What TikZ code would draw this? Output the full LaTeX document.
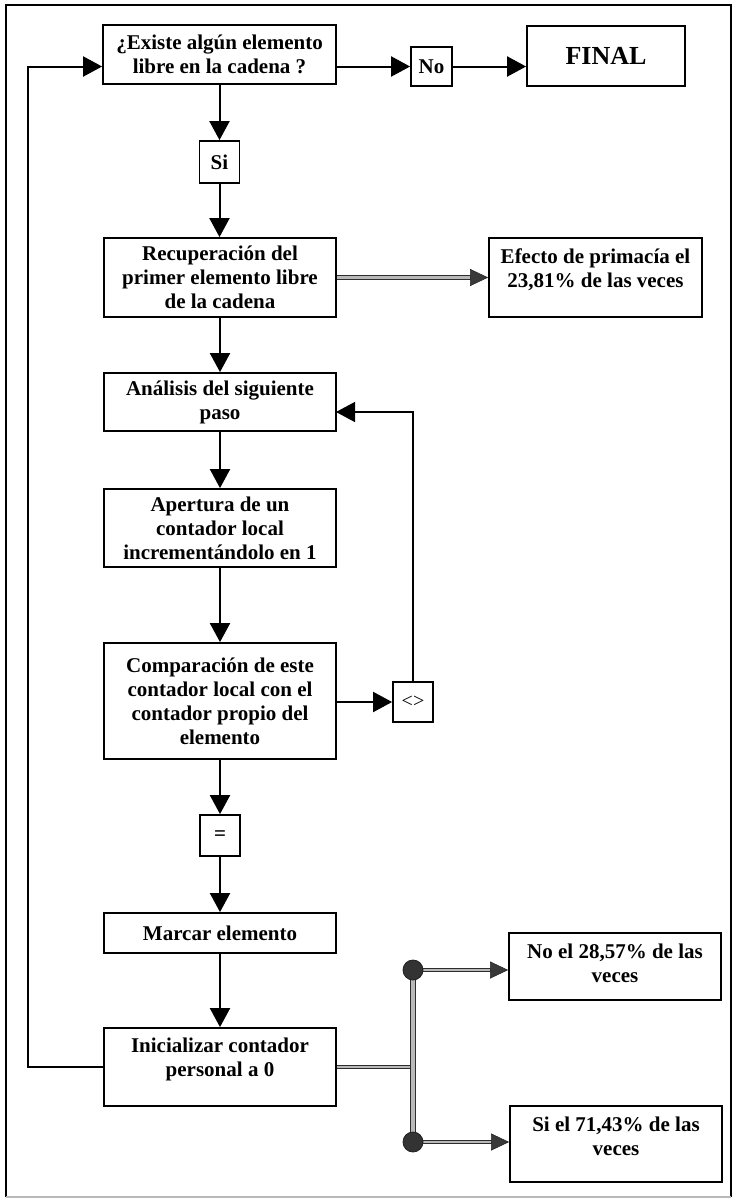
\documentclass[tikz,border=0pt]{standalone}
\usepackage{fontspec}
\setmainfont{Liberation Serif}
\usetikzlibrary{arrows.meta}
\begin{document}
\begin{tikzpicture}[x=1pt,y=-1pt,
  every node/.style={font=\fontsize{21}{24}\selectfont\bfseries},
  box/.style={draw, line width=1.8pt, inner sep=0pt, align=center},
  sz/.style 2 args={minimum width=#1, minimum height=#2},
  txt/.style={inner sep=0pt, align=center},
  arr/.style={line width=2pt, -{Triangle[length=19pt,width=20pt]}},
  thinarr/.style={line width=1.4pt, -{Triangle[length=19pt,width=20pt]}},
  dbl/.style={draw=gray!35!black, line width=1.1pt, double=gray!55, double distance=2.6pt},
  gtip/.style={draw=gray!30!black, line width=0.6pt,
    -{Triangle[length=18pt,width=17pt,fill=gray!45!black]}},
  dot/.style={circle, draw=gray!25!black, fill=gray!40!black, line width=0.8pt, minimum size=20pt, inner sep=0pt}
]
\useasboundingbox (0,0) rectangle (733,1200);

% page frame
\draw[line width=2.6pt] (6,1197) -- (6,5) -- (731,5) -- (731,1197);
\draw[line width=2pt, gray!55] (6,1197) -- (731,1197);

% main column
\node[box, sz={233}{59}] (q) at (219.5,54.5) {¿Existe algún elemento\\libre en la cadena ?};
\node[box, sz={41}{39}] (no) at (431.5,66.5) {No};
\node[box, sz={158}{60}, font=\fontsize{26}{30}\selectfont\bfseries] (fin) at (606,56) {FINAL};
\node[box, sz={40}{42}] (si) at (219.5,162) {Si};
\node[box, sz={232}{79}] (rec) at (220,277.5) {Recuperación del\\primer elemento libre\\de la cadena};
\node[box, sz={213}{79}] (efe) at (595.5,277.5) {};
\node[txt] (efeT) at (595.5,270) {Efecto de primacía el\\23,81\% de las veces};
\node[box, sz={232}{58}] (ana) at (220,402) {Análisis del siguiente\\paso};
\node[box, sz={232}{78}] (ape) at (220,528) {Apertura de un\\contador local\\incrementándolo en 1};
\node[box, sz={232}{116}] (com) at (220,701) {Comparación de este\\contador local con el\\contador propio del\\elemento};
\node[box, sz={40}{40}, font=\fontsize{20}{24}\selectfont\mdseries] (ne) at (413,702) {\textless\textgreater};
\node[box, sz={40}{41}] (eq) at (220,835.5) {=};
\node[box, sz={232}{40}] (mar) at (220,933) {Marcar elemento};
\node[box, sz={232}{78}] (ini) at (220,1067) {};
\node[txt] (iniT) at (220,1059) {Inicializar contador\\personal a 0};

% outcome boxes
\node[box, sz={212}{67}] (noel) at (615,966.5) {};
\node[txt] (noelT) at (615,963) {No el 28,57\% de las\\veces};
\node[box, sz={212}{76}] (siel) at (616,1144) {};
\node[txt] (sielT) at (616,1136) {Si el 71,43\% de las\\veces};

% flow arrows
\draw[arr] (q.east |- no.west) -- (no.west);
\draw[arr] (no.east) -- (no.east -| fin.west);
\draw[arr] (q.south) -- (si.north);
\draw[arr] (si.south) -- (si.south |- rec.north);
\draw[arr] (rec.south) -- (ana.north);
\draw[arr] (ana.south) -- (ape.north);
\draw[arr] (ape.south) -- (com.north);
\draw[arr] (com.east |- ne.west) -- (ne.west);
\draw[arr] (com.south) -- (eq.north);
\draw[arr] (eq.south) -- (mar.north);
\draw[arr] (mar.south) -- (ini.north);

% inner loop back to the analysis step
\coordinate (lp) at (336,412);
\draw[thinarr] (ne.north) |- (lp);

% outer loop back to the question
\coordinate (lb) at (28,1067);
\coordinate (lt) at (28,66.5);
\draw[arr] (ini.west) -- (lb) -- (lt) -- (q.west |- lt);

% grey result arrows
\draw[dbl, shorten >=17pt] (rec.east) -- (efe.west);
\draw[gtip] ([xshift=-18pt]efe.west) -- (efe.west);

\coordinate (b1) at (413,970);
\coordinate (b2) at (413,1142);
\draw[dbl] (ini.east) -- (ini.east -| b1);
\draw[dbl, double distance=3.4pt] (b1) -- (b2);
\draw[dbl, shorten >=17pt] (b1) -- (b1 -| noel.west);
\draw[gtip] ([xshift=-18pt]b1 -| noel.west) -- (b1 -| noel.west);
\draw[dbl, shorten >=17pt] (b2) -- (b2 -| siel.west);
\draw[gtip] ([xshift=-18pt]b2 -| siel.west) -- (b2 -| siel.west);
\node[dot] (d1) at (b1) {};
\node[dot] (d2) at (b2) {};
\end{tikzpicture}
\end{document}
